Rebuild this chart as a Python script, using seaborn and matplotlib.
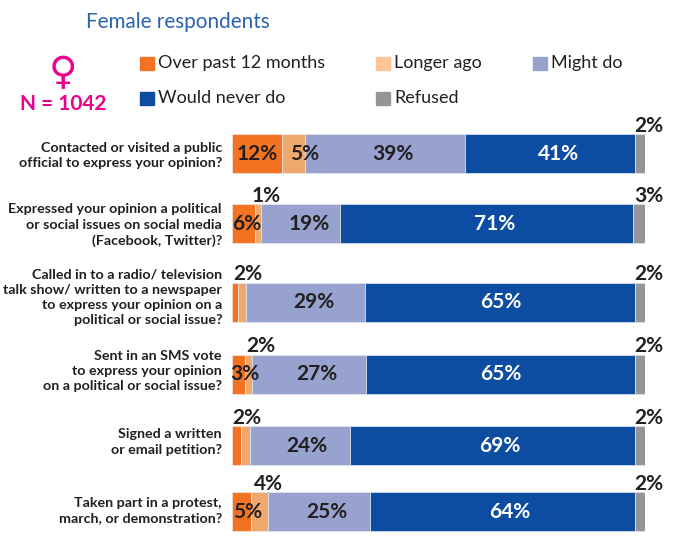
"""Stacked bars: political participation, female respondents."""
import matplotlib.pyplot as plt
import pandas as pd
import seaborn as sns

W, H = 683, 539

questions = [
    "Contacted or visited a public\nofficial to express your opinion?",
    "Expressed your opinion a political\nor social issues on social media\n(Facebook, Twitter)?",
    "Called in to a radio/ television\ntalk show/ written to a newspaper\nto express your opinion on a\npolitical or social issue?",
    "Sent in an SMS vote\nto express your opinion\non a political or social issue?",
    "Signed a written\nor email petition?",
    "Taken part in a protest,\nmarch, or demonstration?",
]
series = ["Over past 12 months", "Longer ago", "Might do", "Would never do", "Refused"]
past_year = [12.1, 5.6, 1.5, 3.1, 2.2, 4.6]
longer_ago = [5.5, 1.5, 1.9, 1.8, 2.2, 4.0]
might_do = [38.9, 19.1, 28.9, 27.5, 24.2, 24.7]
never_do = [41.1, 70.9, 65.3, 65.1, 69.0, 64.2]
refused = [2.4, 2.9, 2.4, 2.5, 2.4, 2.5]
label_past = ["12%", "6%", "", "3%", "", "5%"]
label_longer = ["5%", "1%", "2%", "2%", "2%", "4%"]
label_might = ["39%", "19%", "29%", "27%", "24%", "25%"]
label_never = ["41%", "71%", "65%", "65%", "69%", "64%"]
label_refused = ["2%", "3%", "2%", "2%", "2%", "2%"]

colors = ["#f47321", "#f0a96c", "#98a2cf", "#0c4da2", "#939598"]
legend_colors = ["#f47321", "#fcc497", "#98a2cf", "#0c4da2", "#939598"]
row_centers = [153.5, 223.5, 302.5, 374.5, 445.5, 511.5]
question_centers = [155.5, 225, 297.5, 371, 442, 510.5]
# сдвиги подписей в пикселях относительно центра сегмента
past_shift = [0, 3.5, 0, 6, 0, 6.5]
longer_shift = [11, 8, 6, 12, 1, 9]
might_shift = [8, 8, 8, 8, 7, 8]
never_shift = [8, 8, 1, 1, 7, 8]
INK = "#231f20"
PINK = "#ec008c"
PX = 100 / 413  # один пиксель в единицах оси x

sns.set_theme(style="white")
plt.rcParams["font.family"] = ["Lato", "DejaVu Sans"]

fig = plt.figure(figsize=(W / 100, H / 100), dpi=100, facecolor="white")
ax = fig.add_axes([232 / W, 0, 413 / W, 1])

df = pd.DataFrame(
    {"row": row_centers, **dict(zip(series, [past_year, longer_ago, might_do, never_do, refused]))}
)
left = pd.Series(0.0, index=df.index)
for name, color in zip(series, colors):
    sns.barplot(
        data=df, x=name, y="row", orient="y", native_scale=True, left=left,
        color=color, width=39 / 66, saturation=1, edgecolor="#e6e7ee", linewidth=0.5, ax=ax,
    )
    left = left + df[name]

ax.set_xlim(0, 100)
ax.set_ylim(H, 0)
ax.set_xlabel("")
ax.set_ylabel("")
ax.set_xticks([])
ax.set_yticks([])
ax.patch.set_alpha(0)
sns.despine(ax=ax, left=True, bottom=True)

for q, y in zip(questions, question_centers):
    ax.text(-10 * PX, y, q, ha="right", va="center", fontsize=10.3, fontweight="bold",
            color=INK, linespacing=1.32)

# подписи значений
for i, y in enumerate(row_centers):
    x0 = past_year[i]
    x1 = x0 + longer_ago[i]
    x2 = x1 + might_do[i]
    x3 = x2 + never_do[i]
    style = dict(ha="center", va="center", fontsize=15, fontweight="bold", color=INK)
    if label_past[i]:
        ax.text(x0 / 2 + past_shift[i] * PX, y, label_past[i], **style)
    longer_y = y if longer_ago[i] > 5 else y - 28
    ax.text(x0 + longer_ago[i] / 2 + longer_shift[i] * PX, longer_y, label_longer[i], **style)
    ax.text((x1 + x2) / 2 + might_shift[i] * PX, y, label_might[i], **style)
    ax.text((x2 + x3) / 2 + never_shift[i] * PX, y, label_never[i], **{**style, "color": "white"})
    ax.text(101, y - 28, label_refused[i], **style)

# легенда
legend_pos = [(140, 63.5), (376, 63.5), (533, 63.5), (140, 98.5), (376, 98.5)]
for name, color, (px, py) in zip(series, legend_colors, legend_pos):
    fig.add_artist(plt.Rectangle((px / W, 1 - (py + 6.5) / H), 14 / W, 13 / H, color=color,
                                 transform=fig.transFigure))
    fig.text((px + 18) / W, 1 - (py - 0.5) / H, name, fontsize=13, color=INK, va="center", ha="left")

fig.text(86 / W, 1 - 22 / H, "Female respondents", fontsize=14.9, color="#2a62ae", va="center", ha="left")
fig.text(63 / W, 1 - 73 / H, "♀", fontsize=28, color=PINK, va="center", ha="center", family="DejaVu Sans")
fig.text(63.5 / W, 1 - 104 / H, "N = 1042", fontsize=15, fontweight="bold", color=PINK, va="center", ha="center")

fig.savefig("out.png", dpi=100)
plt.close(fig)
